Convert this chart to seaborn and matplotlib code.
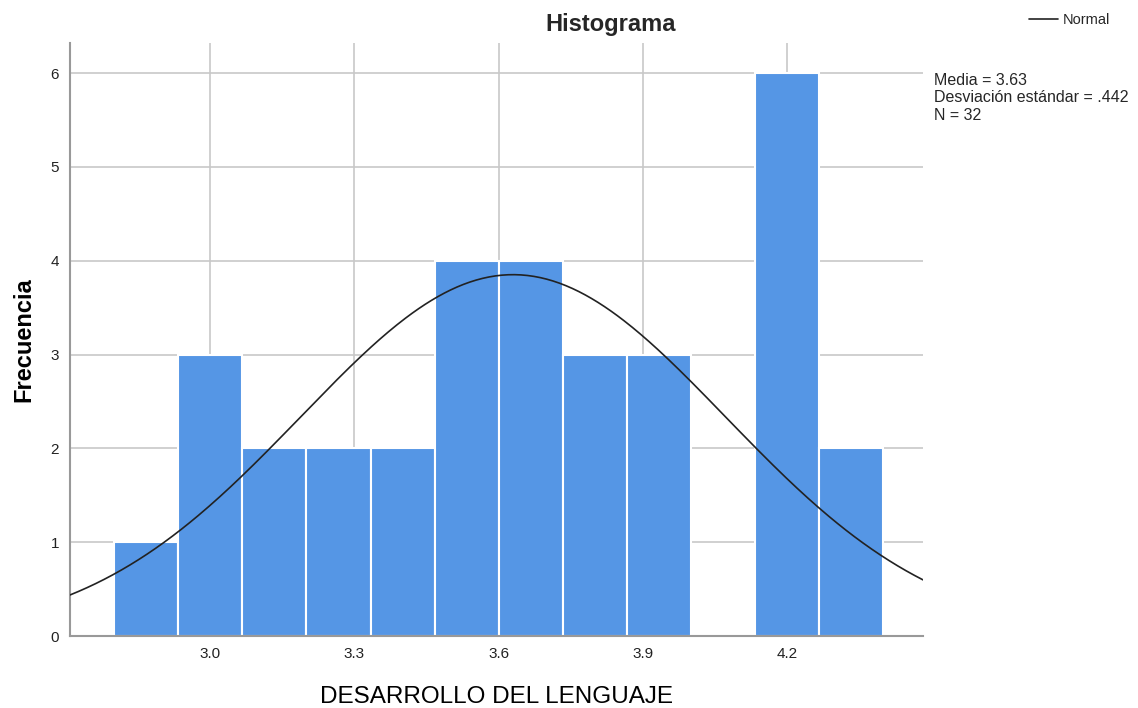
import numpy as np
import matplotlib
matplotlib.use("Agg")
import matplotlib.pyplot as plt
import seaborn as sns

# Data
bin_edges = [2.8 + i * (0.4 / 3) for i in range(13)]
counts = [1, 3, 2, 2, 2, 4, 4, 3, 3, 0, 6, 2]
mean_val = 3.63
sd_val = 0.442
n_val = 32
xticks = [3.0, 3.3, 3.6, 3.9, 4.2]
xtick_labels = ["3.0", "3.3", "3.6", "3.9", "4.2"]
yticks = [0, 1, 2, 3, 4, 5, 6]

sns.set_style("white")
plt.rcParams['font.family'] = ['Liberation Sans', 'DejaVu Sans']

fig = plt.figure(figsize=(11.38, 7.08), dpi=100)
ax = fig.add_axes([70 / 1138, 72 / 708, (923 - 70) / 1138, (636 - 43) / 708])

centers = [(bin_edges[i] + bin_edges[i + 1]) / 2 for i in range(len(counts))]
sns.histplot(x=centers, weights=counts, bins=bin_edges, ax=ax,
             color="#5596e5", alpha=1, edgecolor="white", linewidth=1.5, zorder=2)

xmin, xmax = 2.708, 4.483
bw = bin_edges[1] - bin_edges[0]
xs = np.linspace(xmin, xmax, 400)
ys = n_val * bw / (sd_val * np.sqrt(2 * np.pi)) * np.exp(-0.5 * ((xs - mean_val) / sd_val) ** 2)
sns.lineplot(x=xs, y=ys, ax=ax, color="#222222", linewidth=1.2, zorder=3, label="Normal")

ax.set_xlim(xmin, xmax)
ax.set_ylim(0, 6.32)
ax.set_xticks(xticks)
ax.set_xticklabels(xtick_labels)
ax.set_yticks(yticks)
ax.tick_params(axis='both', length=0, labelsize=11, colors="#222222", pad=8)
ax.grid(True, color="#c8c8c8", linewidth=1.2, zorder=0)
ax.set_axisbelow(True)
for s in ["top", "right"]:
    ax.spines[s].set_visible(False)
for s in ["left", "bottom"]:
    ax.spines[s].set_color("#999999")
    ax.spines[s].set_linewidth(1.5)

ax.set_xlabel("DESARROLLO DEL LENGUAJE", fontsize=17.5, labelpad=18, color="black")
ax.set_ylabel("Frecuencia", fontsize=17, fontweight="bold", labelpad=11, color="black")
fig.text(611 / 1138, 1 - 24 / 708, "Histograma", fontsize=17, fontweight="bold",
         ha="center", va="center")

leg = ax.legend()
handles = leg.legend_handles
leg.remove()
fig.legend(handles=handles, labels=["Normal"], loc="upper left",
           bbox_to_anchor=(1029 / 1138, 1 - 13 / 708), frameon=False, fontsize=10.5,
           handlelength=2.0, handletextpad=0.3, borderaxespad=0, borderpad=0)

fig.text(934 / 1138, 1 - 73 / 708,
         f"Media = {mean_val:.2f}\nDesviación estándar = .{int(round(sd_val * 1000))}\nN = {n_val}",
         fontsize=11.5, va="top", ha="left", linespacing=1.2)

fig.savefig("out.png", dpi=100)
